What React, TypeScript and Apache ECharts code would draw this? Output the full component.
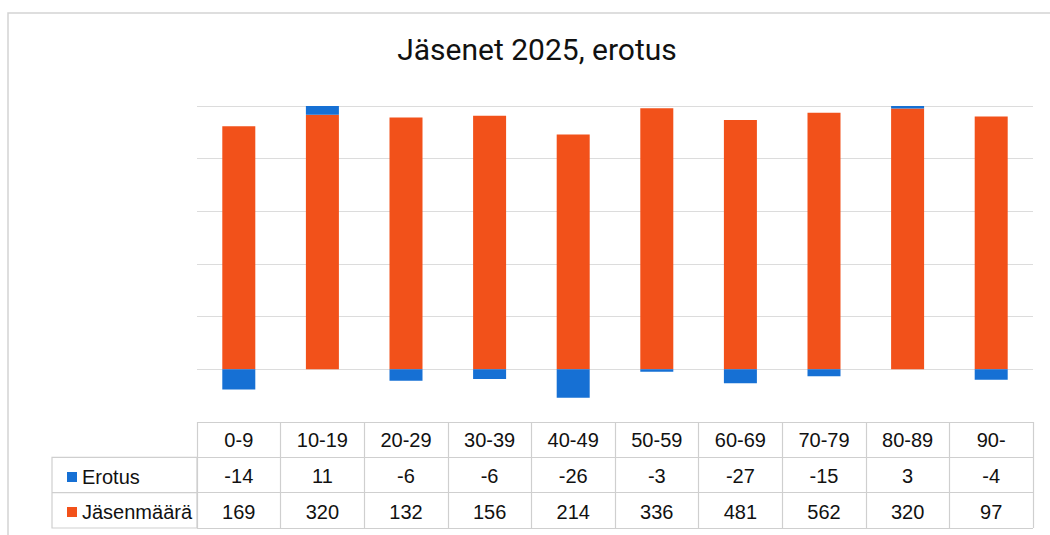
import React, { useEffect, useRef } from "react";
import * as echarts from "echarts";

const categories = ["0-9", "10-19", "20-29", "30-39", "40-49", "50-59", "60-69", "70-79", "80-89", "90-"];
const erotus = [-14, 11, -6, -6, -26, -3, -27, -15, 3, -4];
const jasenmaara = [169, 320, 132, 156, 214, 336, 481, 562, 320, 97];
const yTicks = { min: -20, max: 100, interval: 20 };

const ORANGE = "#F2511A";
const BLUE = "#1670D4";
const LINE = "#cfcfcf";
const FONT = "Liberation Sans";

export default function App() {
  const ref = useRef<HTMLDivElement>(null);
  useEffect(() => {
    if (!ref.current) return;
    const chart = echarts.init(ref.current, null, { renderer: "svg" });
    const totals = categories.map((_, i) => Math.abs(erotus[i]) + Math.abs(jasenmaara[i]));
    const pctJ = jasenmaara.map((v, i) => (v / totals[i]) * 100);
    const pctE = erotus.map((v, i) => (v / totals[i]) * 100);

    chart.setOption({
      animation: false,
      backgroundColor: "#ffffff",
      title: {
        text: "Jäsenet 2025, erotus",
        left: 532,
        top: 29,
        textAlign: "center",
        textStyle: { fontFamily: "Roboto", fontSize: 30, fontWeight: "normal", color: "#111" },
      },
      legend: {
        data: ["Erotus", "Jäsenmäärä"],
        orient: "vertical",
        left: 62,
        top: 462,
        itemWidth: 10,
        itemHeight: 10,
        itemGap: 15,
        icon: "rect",
        selectedMode: false,
        textStyle: { fontFamily: FONT, fontSize: 20, color: "#111", lineHeight: 20 },
      },
      grid: [
        { left: 197, right: 17, top: 106, bottom: 113 },
        { left: 197, right: 17, top: 422, height: 106 },
      ],
      xAxis: [
        {
          type: "category",
          data: categories,
          gridIndex: 0,
          axisLine: { show: false, onZero: false },
          axisTick: { show: false },
          axisLabel: {
            margin: 0,
            interval: 0,
            formatter: (v: string, i: number) => `{a|${v}}\n{a|${erotus[i]}}\n{a|${jasenmaara[i]}}`,
            rich: { a: { fontFamily: FONT, fontSize: 20, color: "#111", lineHeight: 36, align: "center" } },
          },
        },
        {
          type: "category",
          data: categories,
          gridIndex: 1,
          axisLine: { show: false },
          axisTick: { show: false },
          axisLabel: { show: false },
          splitLine: { show: true, lineStyle: { color: LINE, width: 1.2 } },
        },
      ],
      yAxis: [
        {
          type: "value",
          gridIndex: 0,
          min: yTicks.min,
          max: yTicks.max,
          interval: yTicks.interval,
          axisLabel: { show: false },
          axisLine: { show: false },
          axisTick: { show: false },
          splitLine: { lineStyle: { color: "#dcdcdc", width: 1.2 } },
        },
        {
          type: "value",
          gridIndex: 1,
          min: 0,
          max: 3,
          interval: 1,
          axisLabel: { show: false },
          axisLine: { show: false },
          axisTick: { show: false },
          splitLine: { lineStyle: { color: LINE, width: 1.2 } },
        },
      ],
      series: [
        {
          name: "Jäsenmäärä",
          type: "bar",
          stack: "a",
          barWidth: 33,
          data: pctJ,
          itemStyle: { color: ORANGE },
        },
        {
          name: "Erotus",
          type: "bar",
          stack: "a",
          barWidth: 33,
          data: pctE,
          itemStyle: { color: BLUE },
        },
      ],
      graphic: [
        {
          type: "rect",
          shape: { x: 8, y: 13, width: 1100, height: 600 },
          style: { fill: "none", stroke: "#d3d3d3", lineWidth: 1.5 },
          silent: true,
        },
        {
          type: "rect",
          shape: { x: 52, y: 457.3, width: 145, height: 70.7 },
          style: { fill: "none", stroke: LINE, lineWidth: 1.2 },
          silent: true,
        },
        {
          type: "line",
          shape: { x1: 52, y1: 492.7, x2: 197, y2: 492.7 },
          style: { stroke: LINE, lineWidth: 1.2 },
          silent: true,
        },
      ],
    });
    return () => chart.dispose();
  }, []);
  return <div ref={ref} style={{ position: "fixed", left: 0, top: 0, width: 1050, height: 535 }} />;
}
